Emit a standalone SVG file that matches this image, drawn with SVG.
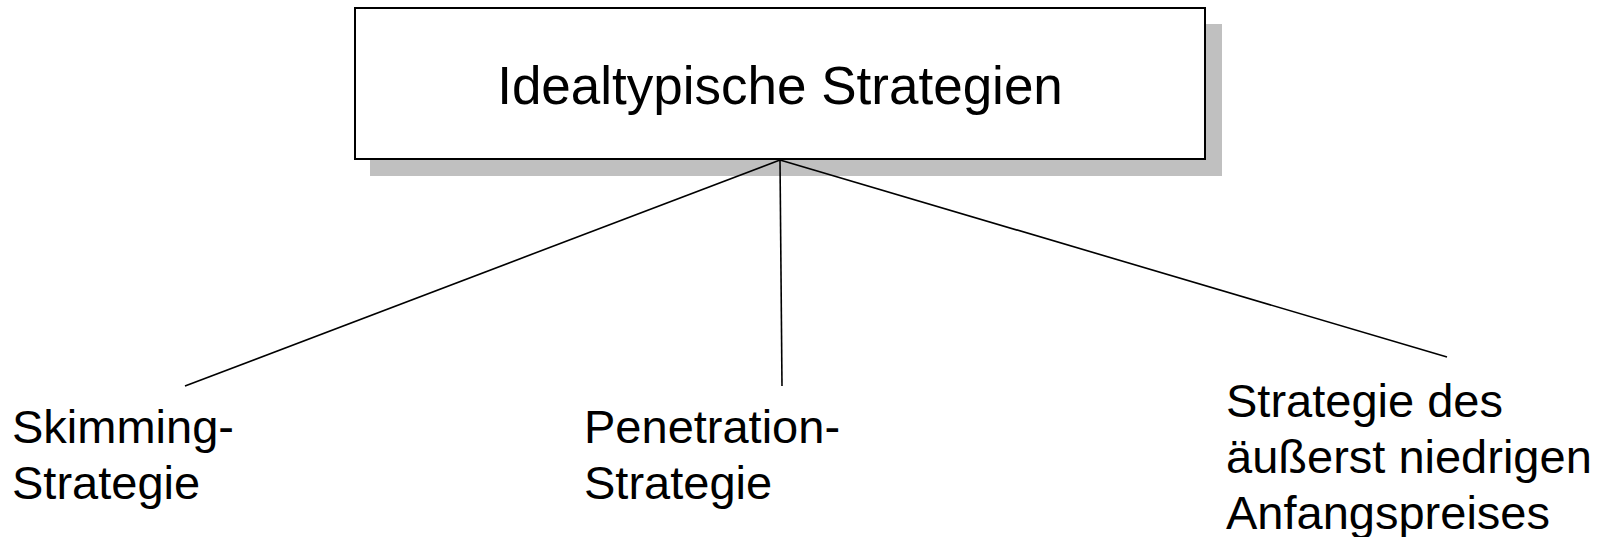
<svg xmlns="http://www.w3.org/2000/svg" width="1606" height="537" viewBox="0 0 1606 537">
<style>
text { font-family: "Liberation Sans", Arial, sans-serif; fill: #000; }
.lbl { font-size: 47px; }
.conn { stroke: #000; stroke-width: 1.6; fill: none; }
</style>
<rect width="1606" height="537" fill="#fff"/>
<g id="root">
<rect x="370" y="24" width="852" height="152" fill="#c0c0c0"/>
<rect x="355" y="8" width="850" height="151" fill="#fff" stroke="#000" stroke-width="2"/>
<text x="780" y="104" font-size="53" text-anchor="middle">Idealtypische Strategien</text>
</g>
<g id="connectors">
<line class="conn" x1="780" y1="160" x2="185" y2="386"/>
<line class="conn" x1="780" y1="160" x2="782" y2="386"/>
<line class="conn" x1="780" y1="160" x2="1447" y2="357"/>
</g>
<g id="skimming">
<text class="lbl" x="12" y="443">Skimming-</text>
<text class="lbl" x="12" y="499">Strategie</text>
</g>
<g id="penetration">
<text class="lbl" x="584" y="443">Penetration-</text>
<text class="lbl" x="584" y="499">Strategie</text>
</g>
<g id="niedrig">
<text class="lbl" x="1226" y="417">Strategie des</text>
<text class="lbl" x="1226" y="473">äußerst niedrigen</text>
<text class="lbl" x="1226" y="529">Anfangspreises</text>
</g>
</svg>
